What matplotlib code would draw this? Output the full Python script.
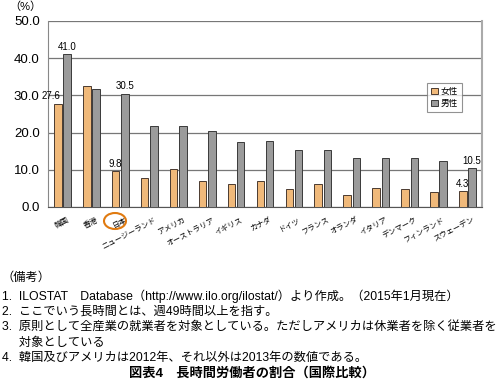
import matplotlib
matplotlib.use("Agg")
import matplotlib.pyplot as plt
from matplotlib.patches import Ellipse
import matplotlib.transforms as mtrans
import numpy as np

plt.rcParams['font.family'] = ['Liberation Sans', 'Noto Sans CJK JP', 'DejaVu Sans']

countries = ["韓国", "香港", "日本", "ニュージーランド", "アメリカ", "オーストラリア", "イギリス",
             "カナダ", "ドイツ", "フランス", "オランダ", "イタリア", "デンマーク", "フィンランド", "スウェーデン"]
female = [27.6, 32.6, 9.8, 7.9, 10.2, 7.1, 6.3, 7.1, 4.8, 6.3, 3.2, 5.2, 4.8, 4.1, 4.3]
male = [41.0, 31.7, 30.5, 21.8, 21.8, 20.4, 17.6, 17.7, 15.2, 15.2, 13.3, 13.3, 13.3, 12.3, 10.5]
yticks = [0, 10, 20, 30, 40, 50]
notes = ["（備考）",
         "1.  ILOSTAT　Database（http://www.ilo.org/ilostat/）より作成。（2015年1月現在）",
         "2.  ここでいう長時間とは、週49時間以上を指す。",
         "3.  原則として全産業の就業者を対象としている。ただしアメリカは休業者を除く従業者を",
         "     対象としている",
         "4.  韓国及びアメリカは2012年、それ以外は2013年の数値である。"]
title = "図表4　長時間労働者の割合（国際比較）"

fig = plt.figure(figsize=(5.04, 3.87), dpi=100)
ax = fig.add_axes([48/504, 1-207/387, (482-48)/504, (207-21)/387])

x = np.arange(len(countries))
w = 0.26
fc = "#F0B97A"
mc = "#9B9B9B"
ax.bar(x - 0.16, female, w, color=fc, edgecolor="#4a3a30", linewidth=0.7, label="女性", zorder=3)
ax.bar(x + 0.16, male, w, color=mc, edgecolor="#3a3a3a", linewidth=0.7, label="男性", zorder=3)

ax.set_xlim(-0.5, len(countries) - 0.5)
ax.set_ylim(0, 50)
ax.set_yticks(yticks)
ax.set_yticklabels([f"{v:.1f}" for v in yticks], fontsize=9.5)
ax.yaxis.grid(True, color="#777777", linewidth=0.9, zorder=0)
ax.set_axisbelow(True)
ax.spines["top"].set_visible(False)
ax.spines["left"].set_color("#888888")
ax.spines["bottom"].set_color("#555555")
ax.spines["right"].set_color("#aaaaaa")
ax.spines["right"].set_linewidth(1.5)
ax.tick_params(axis="y", length=0, pad=6)
ax.tick_params(axis="x", length=0, pad=7)
ax.set_xticks(x)
ax.set_xticklabels(countries, rotation=27, ha="right", va="top", rotation_mode="anchor", fontsize=5.4)
offset = mtrans.ScaledTranslation(5/100, 0, fig.dpi_scale_trans)
for lab in ax.get_xticklabels():
    lab.set_transform(lab.get_transform() + offset)

ax.text((25-48)/434, 1 + 14/186, "（%）", transform=ax.transAxes, fontsize=8, ha="center", va="center")

# value labels
lab_fs = 7
ax.text(0 + 0.16, male[0] + 0.6, f"{male[0]:.1f}", ha="center", va="bottom", fontsize=lab_fs)
ax.text(0 - 0.38, female[0] + 1.0, f"{female[0]:.1f}", ha="center", va="bottom", fontsize=lab_fs)
ax.text(2 + 0.16, male[2] + 0.6, f"{male[2]:.1f}", ha="center", va="bottom", fontsize=lab_fs)
ax.text(2 - 0.16, female[2] + 0.3, f"{female[2]:.1f}", ha="center", va="bottom", fontsize=lab_fs)
ax.text(14 - 0.16, female[14] + 0.6, f"{female[14]:.1f}", ha="center", va="bottom", fontsize=lab_fs)
ax.text(14 + 0.16, male[14] + 0.6, f"{male[14]:.1f}", ha="center", va="bottom", fontsize=lab_fs)

leg = ax.legend(loc="upper left", bbox_to_anchor=((423-48)/434, 1-(79-21)/186), fontsize=6.2,
                frameon=True, fancybox=False, edgecolor="#777777", handlelength=0.8, handleheight=0.8,
                handletextpad=0.3, borderpad=0.45, labelspacing=0.35)
leg.get_frame().set_linewidth(0.8)
leg.set_zorder(5)

# circle around Japan label
fig.patches.append(Ellipse((115/504, 1-221/387), 22/504, 16/387, transform=fig.transFigure,
                           fill=False, edgecolor="#E07A10", linewidth=1.5))

ys = [278, 296, 312, 327, 343, 358]
for t, yy in zip(notes, ys):
    fig.text(2/504, 1-yy/387, t, fontsize=8.8, va="center", ha="left")
fig.text(252/504, 1-373/387, title, fontsize=9.5, va="center", ha="center", fontweight="bold")

fig.savefig("out.png", dpi=100)
